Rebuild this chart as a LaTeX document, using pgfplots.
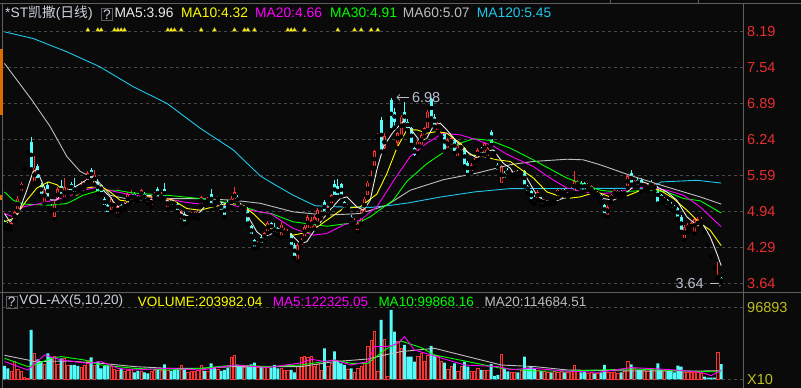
\documentclass[border=0pt]{standalone}
\usepackage{fontspec}
\setmainfont{Liberation Sans}
\newfontfamily\cjk{Noto Sans CJK SC}
\usepackage{pgfplots}
\usepackage{pgfplotstable}
\pgfplotsset{compat=1.18}
\usetikzlibrary{arrows.meta}

\definecolor{bg}{RGB}{10,10,10}
\definecolor{upred}{RGB}{255,50,50}
\definecolor{dncyan}{RGB}{84,252,252}
\definecolor{gridc}{RGB}{72,72,72}
\definecolor{sepc}{RGB}{95,95,95}
\definecolor{ticred}{RGB}{232,45,45}
\definecolor{volyel}{RGB}{190,190,30}
\definecolor{ma5c}{RGB}{235,235,235}
\definecolor{ma10c}{RGB}{255,255,0}
\definecolor{ma20c}{RGB}{255,0,255}
\definecolor{ma30c}{RGB}{0,255,0}
\definecolor{ma60c}{RGB}{190,190,190}
\definecolor{ma120c}{RGB}{30,200,235}
\definecolor{titc}{RGB}{205,210,222}
\definecolor{annc}{RGB}{180,190,205}
\definecolor{orangec}{RGB}{220,110,0}

% up (red) candles: index, open, high, low, close, volume (x10)
\pgfplotstableread{
i o h l c v
2 4.61 4.74 4.60 4.72 11170
3 4.80 4.95 4.78 4.92 23820
4 4.97 5.22 4.95 5.17 13460
5 5.31 5.47 5.28 5.44 11170
9 5.47 5.93 5.45 5.73 35000
12 5.11 5.40 5.08 5.34 20590
15 4.84 5.12 4.80 5.08 31360
16 5.14 5.38 5.10 5.34 20590
18 5.19 5.54 5.16 5.37 28270
19 5.26 5.36 5.22 5.32 18440
23 5.33 5.48 5.30 5.41 15750
24 5.37 5.47 5.35 5.44 18440
25 5.50 5.66 5.47 5.63 25170
27 5.44 5.69 5.42 5.60 19250
32 4.96 5.20 4.93 5.17 17090
33 5.01 5.11 4.98 5.08 13460
34 4.90 5.05 4.87 5.02 12520
36 4.99 5.11 4.97 5.08 10360
37 5.08 5.28 5.06 5.25 12520
38 5.14 5.32 5.12 5.26 13460
41 5.20 5.35 5.18 5.32 11170
44 5.04 5.19 5.02 5.16 11170
45 5.19 5.29 5.17 5.26 12520
47 5.17 5.28 5.15 5.25 12520
49 5.02 5.17 4.99 5.14 12520
53 4.78 4.96 4.76 4.93 19250
55 4.78 4.88 4.75 4.85 9420
56 4.84 4.92 4.82 4.90 11170
57 4.84 4.93 4.82 4.90 11170
58 4.83 4.96 4.80 4.93 12520
59 5.08 5.22 5.05 5.19 18440
61 5.11 5.20 5.08 5.17 11170
64 5.14 5.22 5.12 5.19 13860
68 5.05 5.21 5.02 5.17 29210
69 5.14 5.37 5.12 5.29 31900
72 4.96 5.05 4.94 5.02 15750
76 4.30 4.40 4.28 4.37 15750
78 4.43 4.56 4.41 4.54 15750
79 4.57 4.76 4.55 4.73 17090
83 4.50 4.74 4.47 4.70 14810
84 4.52 4.63 4.49 4.60 12520
85 4.50 4.62 4.48 4.59 12520
88 4.06 4.36 4.04 4.33 17090
89 4.33 4.46 4.30 4.43 29210
90 4.48 4.69 4.45 4.66 30550
91 4.63 4.87 4.60 4.84 29210
92 4.63 4.84 4.60 4.78 31360
93 4.66 4.87 4.63 4.84 17090
94 4.75 5.00 4.72 4.96 20190
95 4.84 4.96 4.81 4.93 12520
97 4.90 5.05 4.88 5.02 17090
98 5.08 5.26 5.05 5.23 21540
103 4.98 5.08 4.95 5.05 13460
105 4.70 4.81 4.67 4.78 9020
106 4.60 4.75 4.57 4.72 14810
107 4.75 4.99 4.72 4.96 17090
108 4.93 5.20 4.90 5.17 21540
109 5.23 5.49 5.20 5.46 44010
110 5.70 5.75 5.53 5.74 52090
111 5.75 6.05 5.72 6.02 65010
112 6.27 6.35 6.23 6.32 11170
114 6.08 6.35 6.02 6.30 53840
118 6.17 6.38 6.08 6.35 50740
119 6.32 6.68 6.29 6.65 41730
124 6.02 6.23 5.99 6.20 30550
125 6.14 6.35 6.11 6.32 35000
126 6.32 6.47 6.29 6.44 23820
127 6.44 6.77 6.41 6.74 32710
130 6.41 6.56 6.38 6.53 30550
131 6.26 6.38 6.23 6.32 23820
133 6.08 6.26 6.05 6.23 13460
134 6.14 6.29 6.11 6.26 17900
136 5.93 6.17 5.90 6.14 10360
137 6.05 6.17 6.00 6.14 17090
140 5.66 5.81 5.63 5.78 10360
141 5.78 5.90 5.75 5.87 10360
142 5.90 6.08 5.87 6.05 14810
144 5.99 6.20 5.96 6.17 12520
145 5.93 6.11 5.90 6.08 12520
149 5.45 5.78 5.42 5.75 34050
152 5.57 5.66 5.54 5.63 9420
153 5.58 5.66 5.55 5.63 9420
155 5.60 5.69 5.58 5.66 12520
160 5.17 5.32 5.15 5.29 12520
162 5.08 5.17 5.05 5.14 10360
163 5.08 5.14 5.06 5.11 9420
165 5.09 5.16 5.07 5.14 10360
166 5.20 5.36 5.18 5.33 9420
167 5.25 5.35 5.23 5.32 11170
169 5.20 5.28 5.18 5.25 9420
170 5.26 5.38 5.24 5.35 11170
171 5.30 5.66 5.28 5.48 19250
172 5.39 5.51 5.36 5.48 11170
175 5.36 5.45 5.33 5.42 8080
176 5.30 5.42 5.28 5.39 9420
178 5.22 5.30 5.19 5.27 8080
181 4.87 5.05 4.84 5.02 9420
182 5.14 5.26 5.11 5.23 9420
183 5.23 5.35 5.20 5.32 9420
184 5.22 5.33 5.20 5.30 8080
186 5.23 5.33 5.21 5.30 11170
187 5.39 5.60 5.36 5.57 23820
189 5.40 5.51 5.38 5.48 14810
192 5.36 5.47 5.33 5.44 12520
193 5.33 5.45 5.31 5.41 11170
195 5.33 5.45 5.30 5.42 12520
198 5.11 5.20 5.08 5.17 12520
204 4.45 4.69 4.42 4.66 9420
205 4.60 4.72 4.57 4.69 9420
206 4.63 4.75 4.60 4.72 9420
207 4.57 4.84 4.54 4.80 9420
208 4.66 4.83 4.63 4.80 9420
209 4.72 4.83 4.70 4.80 8080
214 3.72 4.03 3.71 3.78 36340
}\tabup

% down (cyan) candles
\pgfplotstableread{
i o h l c v
0 4.75 4.78 4.64 4.67 17900
1 4.72 4.74 4.62 4.66 14810
8 6.20 6.28 5.70 5.72 66360
10 5.75 5.80 5.50 5.54 26920
11 5.41 5.45 5.22 5.26 23820
13 5.41 5.47 5.17 5.20 35000
14 5.04 5.08 4.93 4.96 29610
17 5.40 5.51 5.22 5.25 28270
20 5.44 5.47 5.28 5.32 19250
21 5.38 5.55 5.26 5.29 19250
22 5.36 5.38 5.28 5.31 17900
26 5.69 5.73 5.50 5.54 29610
28 5.47 5.53 5.26 5.29 23820
29 5.41 5.44 5.25 5.29 14810
30 5.16 5.20 5.02 5.05 17900
31 5.05 5.08 4.89 4.92 17900
35 5.05 5.08 4.94 4.96 13860
39 5.25 5.29 5.14 5.16 9420
40 5.20 5.23 5.12 5.14 11170
42 5.25 5.28 5.13 5.16 9420
43 5.20 5.22 5.08 5.11 8080
46 5.34 5.38 5.17 5.20 12520
48 5.34 5.45 5.18 5.20 20190
50 5.14 5.17 5.02 5.05 11170
51 5.11 5.13 5.02 5.05 12520
52 5.08 5.10 4.93 4.96 12520
54 4.90 4.93 4.72 4.75 13860
60 5.14 5.17 5.05 5.08 11170
62 5.25 5.34 5.05 5.08 21540
63 5.14 5.17 5.05 5.08 15750
65 5.08 5.11 4.93 4.96 11170
66 5.04 5.06 4.84 4.87 12520
67 5.11 5.14 5.00 5.02 15750
70 5.20 5.24 5.08 5.11 19250
71 5.04 5.06 4.99 5.01 17090
73 4.99 5.02 4.72 4.75 17090
74 4.67 4.70 4.50 4.52 20190
75 4.42 4.44 4.27 4.30 22480
77 4.48 4.50 4.34 4.36 17090
80 4.72 4.75 4.58 4.62 15750
81 4.66 4.72 4.54 4.57 19250
82 4.63 4.66 4.51 4.54 14810
86 4.51 4.54 4.30 4.33 12520
87 4.33 4.36 4.10 4.13 9420
96 5.11 5.14 4.90 4.93 41730
99 5.44 5.50 5.20 5.23 37690
100 5.39 5.53 5.20 5.22 23820
101 5.43 5.45 5.21 5.23 21540
102 5.10 5.13 4.97 5.00 19250
104 4.84 4.87 4.72 4.75 14810
113 6.59 6.65 6.02 6.05 79820
116 6.95 6.98 6.40 6.45 93280
117 6.74 6.80 6.45 6.56 64200
120 6.74 6.92 6.50 6.56 46170
121 6.56 6.60 6.40 6.44 30550
122 6.44 6.47 6.14 6.17 30550
123 6.08 6.11 5.90 5.96 23820
128 6.96 6.98 6.62 6.65 44820
129 6.65 6.70 6.47 6.50 32710
132 6.35 6.38 6.02 6.05 22480
135 6.23 6.26 5.99 6.02 21540
138 6.08 6.11 5.75 5.78 23820
139 5.81 5.84 5.60 5.63 17090
143 6.08 6.11 5.96 6.00 12520
146 6.38 6.41 6.14 6.17 20590
147 6.02 6.05 5.93 5.96 4440
148 5.78 5.81 5.66 5.69 5790
150 5.64 5.66 5.51 5.54 14810
151 5.69 5.72 5.57 5.60 10770
154 5.66 5.69 5.57 5.60 9420
156 5.66 5.69 5.39 5.42 30550
157 5.40 5.42 5.27 5.30 15750
158 5.30 5.33 5.12 5.16 17090
159 5.20 5.23 5.08 5.12 14810
161 5.17 5.20 5.05 5.08 11170
164 5.14 5.15 5.06 5.09 9420
168 5.32 5.35 5.22 5.25 9420
173 5.45 5.48 5.30 5.33 9420
174 5.45 5.47 5.30 5.33 10360
177 5.33 5.36 5.22 5.25 8080
179 5.24 5.27 5.12 5.14 9420
180 5.05 5.08 4.87 4.90 19250
185 5.30 5.33 5.20 5.23 9420
188 5.63 5.69 5.42 5.45 20190
190 5.51 5.54 5.38 5.41 12520
191 5.51 5.54 5.30 5.33 12520
194 5.45 5.50 5.36 5.39 12520
196 5.36 5.39 5.08 5.11 21540
197 5.23 5.26 5.12 5.14 12520
199 5.14 5.16 5.02 5.05 11170
200 5.08 5.10 4.97 5.00 11170
201 5.02 5.05 4.93 4.96 9420
202 5.00 5.02 4.81 4.84 18440
203 4.84 4.87 4.57 4.60 17090
215 3.73 3.75 3.64 3.66 20398
}\tabdn

% one-price (limit) days
\pgfplotstableread{
i p v
6 5.71 2690
7 6.00 1750
115 6.62 4440
}\tabflu
\pgfplotstableread{
i p v
210 4.56 3630
211 4.33 2290
212 4.12 2290
213 3.91 2290
}\tabfld

\begin{document}
\begin{tikzpicture}
\useasboundingbox (0,0) rectangle (801pt,388pt);
\fill[bg] (0,0) rectangle (801pt,388pt);

% ---------------- price panel ----------------
\begin{axis}[
  at={(2pt,97pt)}, anchor=south west, scale only axis,
  width=741pt, height=288pt,
  xmin=-0.75, xmax=221.55, ymin=3.501, ymax=8.701,
  axis line style={draw=none}, xtick=\empty,
  ytick={3.64,4.29,4.94,5.59,6.24,6.89,7.54,8.19},
  yticklabels={3.64,4.29,4.94,5.59,6.24,6.89,7.54,8.19},
  yticklabel pos=right, tick style={draw=none}, major tick length=0pt,
  yticklabel style={anchor=west, inner sep=0pt, xshift=4pt, text=ticred, font=\fontsize{14.5}{16}\selectfont},
  ymajorgrids, major grid style={draw=gridc, line width=0.7pt, dash pattern=on 3pt off 3pt},
]
% wicks
\addplot[only marks, mark=none, error bars/.cd, y dir=plus, y explicit, error mark=none,
  error bar style={draw=dncyan, line width=0.9pt}]
  table[x=i, y=l, y error plus expr={\thisrow{h}-\thisrow{l}}] \tabdn;
\addplot[only marks, mark=none, error bars/.cd, y dir=plus, y explicit, error mark=none,
  error bar style={draw=upred, line width=0.9pt}]
  table[x=i, y=l, y error plus expr={\thisrow{h}-\thisrow{l}}] \tabup;
% bodies
\addplot[only marks, mark=none, error bars/.cd, y dir=both, y explicit, error mark=none,
  error bar style={draw=dncyan, line width=2.7pt}]
  table[x=i, y expr={(\thisrow{o}+\thisrow{c})/2}, y error expr={max(abs(\thisrow{o}-\thisrow{c})/2,0.009)}] \tabdn;
\addplot[only marks, mark=none, error bars/.cd, y dir=both, y explicit, error mark=none,
  error bar style={draw=upred, line width=2.7pt}]
  table[x=i, y expr={(\thisrow{o}+\thisrow{c})/2}, y error expr={max(abs(\thisrow{o}-\thisrow{c})/2,0.009)}] \tabup;
\addplot[only marks, mark=none, error bars/.cd, y dir=both, y explicit, error mark=none,
  error bar style={draw=bg, line width=1.2pt}]
  table[x=i, y expr={(\thisrow{o}+\thisrow{c})/2}, y error expr={max(abs(\thisrow{o}-\thisrow{c})/2-0.0135,0)}] \tabup;
% one-price days
\addplot[only marks, mark=none, error bars/.cd, x dir=both, x fixed=0.45, error mark=none,
  error bar style={draw=white, line width=1pt}] table[x=i, y=p] \tabflu;
\addplot[only marks, mark=none, error bars/.cd, x dir=both, x fixed=0.45, error mark=none,
  error bar style={draw=white, line width=1pt}] table[x=i, y=p] \tabfld;

% MA120
\addplot[ma120c, line width=0.9pt] coordinates {(0,8.18) (8.6,8.06) (18.7,7.82) (28.6,7.55) (38.6,7.19) (48.7,6.89) (58.7,6.44) (68.6,6.05) (76.7,5.58) (79.7,5.47) (86.6,5.23) (93.2,5.04) (100,5.02) (110,5.01) (116,5.05) (121,5.09) (131,5.20) (141,5.29) (151.7,5.35) (192.7,5.355) (195,5.40) (197,5.47) (207.7,5.50) (215,5.45)};
% MA60
\addplot[ma60c, line width=0.9pt] coordinates {(0,7.61) (8.2,6.95) (13.7,6.47) (18.7,5.93) (22.7,5.66) (27.7,5.51) (31.7,5.23) (38.6,5.14) (48.7,5.17) (58.7,5.17) (68.6,5.14) (76.7,5.085) (86.6,4.93) (96.7,4.87) (106.7,4.90) (114.7,5.05) (121.7,5.32) (131.6,5.51) (141.7,5.63) (151.7,5.78) (158.6,5.84) (168.7,5.88) (173.6,5.87) (178.7,5.78) (188.6,5.57) (198.7,5.38) (208.7,5.20) (215,5.07)};
% MA30
\addplot[ma30c, line width=0.9pt] coordinates {(0,5.29) (2.6,5.14) (5.6,5.07) (13.6,5.05) (18.7,5.08) (23.6,5.23) (28.7,5.32) (33.7,5.32) (38.6,5.27) (48.7,5.23) (58.7,5.17) (68.6,5.08) (77,4.92) (80,4.90) (86.6,4.75) (96.7,4.67) (106.7,4.75) (109.7,4.84) (116.6,5.14) (120.7,5.48) (126.7,5.80) (131.6,6.00) (136.7,6.17) (140.7,6.25) (145.7,6.22) (151.7,6.08) (158.6,5.87) (168.7,5.54) (178.7,5.32) (183.7,5.29) (193.7,5.32) (198.7,5.29) (203.7,5.17) (208.7,5.13) (215,4.91)};
% MA20
\addplot[ma20c, line width=0.9pt] coordinates {(0,4.90) (2.6,4.84) (5.6,5.02) (10.6,5.08) (14.6,5.14) (18.7,5.20) (23.6,5.32) (27.7,5.37) (33.7,5.29) (38.6,5.23) (43.7,5.20) (48.7,5.17) (53.6,5.11) (58.7,5.07) (63.7,5.05) (68.6,5.05) (73.7,4.96) (79.7,4.90) (86.6,4.63) (92.6,4.51) (96.7,4.54) (101.6,4.69) (106.7,4.78) (111.7,5.02) (116.6,5.48) (121.7,5.93) (126.7,6.17) (131.6,6.35) (136.7,6.32) (141.7,6.23) (146.6,6.12) (150.7,5.97) (158.6,5.75) (163.7,5.54) (168.7,5.36) (173.6,5.29) (178.7,5.26) (183.7,5.28) (188.7,5.36) (193.7,5.38) (198.7,5.32) (203.7,5.23) (208.7,5.02) (215,4.66)};
% MA10
\addplot[ma10c, line width=0.9pt] coordinates {(0,4.75) (2.6,4.81) (6.7,5.14) (9.7,5.36) (13.1,5.47) (15.7,5.42) (18.7,5.27) (21.7,5.23) (24.7,5.36) (28.7,5.40) (31.7,5.29) (34.7,5.14) (38.6,5.11) (42.7,5.20) (46.7,5.20) (50.6,5.14) (54.7,4.99) (58.7,4.96) (62.6,5.02) (66.7,5.07) (70.7,5.08) (74.6,4.90) (78.7,4.66) (82.7,4.57) (86.6,4.51) (91.7,4.57) (96.7,4.78) (101.6,4.99) (106.7,5.02) (111.7,5.25) (114.7,5.62) (117.7,6.08) (120.7,6.41) (123.7,6.41) (126.7,6.35) (129.7,6.38) (132.7,6.35) (136.7,6.17) (139.7,5.96) (143.6,5.93) (147.7,5.87) (151.7,5.84) (153.7,5.75) (158.7,5.54) (162.7,5.29) (168.7,5.17) (172.7,5.20) (177.7,5.29) (181.7,5.20) (185.6,5.19) (189.7,5.29) (192.7,5.38) (196.7,5.32) (200.7,5.17) (204.7,4.96) (208.7,4.72) (211.7,4.60) (215,4.32)};
% MA5
\addplot[ma5c, line width=0.9pt] coordinates {(0,4.90) (1.6,4.75) (4.1,4.90) (6.7,5.32) (8.6,5.66) (9.7,5.69) (11.6,5.42) (13.6,5.15) (15.6,5.14) (17.6,5.29) (20.6,5.36) (24.7,5.51) (27.7,5.47) (29.6,5.32) (31.7,5.20) (33.7,5.02) (35.6,5.05) (38.6,5.17) (42.7,5.23) (46.7,5.20) (50.6,5.08) (53.2,4.90) (55.7,4.84) (58.7,4.93) (61.6,5.14) (64.7,5.11) (67.7,5.05) (69.7,5.14) (71.7,5.02) (73.7,4.78) (75.7,4.57) (77.6,4.48) (79.7,4.52) (82.7,4.63) (85.7,4.54) (88.7,4.36) (90.7,4.39) (93.7,4.66) (97.6,4.96) (100.7,5.17) (102.7,5.20) (105.7,5.02) (107.7,4.96) (109.7,5.14) (111.7,5.69) (113.7,6.11) (116.7,6.38) (119.6,6.56) (121.7,6.44) (124.7,6.20) (126.7,6.26) (128.6,6.47) (130.7,6.53) (132.7,6.41) (135.7,6.20) (138.7,6.02) (141.7,5.90) (144.7,6.02) (146.6,6.05) (149.6,5.81) (151.7,5.72) (152.7,5.63) (156.7,5.54) (159.7,5.23) (161.7,5.14) (164.7,5.11) (168.7,5.20) (172.7,5.38) (176.6,5.32) (179.7,5.17) (182.6,5.14) (185.6,5.23) (188.6,5.38) (191.6,5.47) (195.7,5.38) (198.7,5.29) (201.7,5.14) (204.7,4.84) (207.7,4.69) (209.7,4.69) (211.7,4.48) (213.7,4.18) (215,3.96)};

% event markers
\addplot[only marks, mark=triangle*, mark size=2.4pt, mark options={fill=yellow, draw=yellow!60!black, line width=0.3pt}]
  coordinates {(25,8.214) (28,8.214) (29,8.214) (33,8.214) (34,8.214) (35,8.214) (36,8.214) (49,8.214) (50,8.214) (51,8.214) (53,8.214) (59,8.214) (63,8.214) (69,8.214) (72,8.214) (73,8.214) (75,8.214) (85,8.214) (86,8.214) (87,8.214) (90,8.214) (100,8.214) (105,8.214) (107,8.214) (110,8.214) (112,8.214)};

% high / low annotations
\draw[annc, line width=0.7pt, -{Straight Barb[length=3pt,width=6pt]}] (axis cs:121.2,6.995) -- (axis cs:117.6,6.995);
\node[anchor=west, inner sep=0pt, text=annc, font=\fontsize{14.5}{16}\selectfont] at (axis cs:122.2,6.995) {6.98};
\node[anchor=east, inner sep=0pt, text=annc, font=\fontsize{14.5}{16}\selectfont] at (axis cs:209.85,3.64) {3.64};
\draw[annc, line width=0.7pt, -{Straight Barb[length=3pt,width=6pt]}] (axis cs:211.7,3.64) -- (axis cs:215.5,3.64);
\end{axis}

% ---------------- volume panel ----------------
\begin{axis}[
  at={(2pt,0pt)}, anchor=south west, scale only axis,
  width=741pt, height=96pt,
  xmin=-0.75, xmax=221.55, ymin=-11710, ymax=117506,
  axis line style={draw=none}, xtick=\empty, scaled y ticks=false,
  ytick={0,96893}, yticklabels={X10,96893},
  yticklabel pos=right, tick style={draw=none}, major tick length=0pt,
  yticklabel style={anchor=west, inner sep=0pt, xshift=4pt, text=volyel, font=\fontsize{14.5}{16}\selectfont},
  ymajorgrids, major grid style={draw=gridc, line width=0.7pt, dash pattern=on 3pt off 3pt},
]
\addplot[ybar, bar width=2.9pt, bar shift=0pt, fill=dncyan, draw=none] table[x=i, y=v] \tabdn;
\addplot[ybar, bar width=2.9pt, bar shift=0pt, fill=dncyan, draw=none] table[x=i, y=v] \tabfld;
\addplot[ybar, bar width=2.1pt, bar shift=0pt, fill=bg, draw=upred, line width=0.75pt] table[x=i, y=v] \tabup;
\addplot[ybar, bar width=2.1pt, bar shift=0pt, fill=bg, draw=upred, line width=0.75pt] table[x=i, y=v] \tabflu;
% VOL MA20
\addplot[ma60c, line width=0.9pt] coordinates {(0,32300) (7,26000) (9,23800) (19,24600) (29,21500) (39,17100) (49,14800) (59,14800) (69,17100) (79,17100) (89,17100) (99,23800) (109,27300) (114,32700) (119,37300) (129,41700) (139,30500) (149,19250) (159,17100) (169,12500) (189,11200) (209,11200) (215,11468)};
% VOL MA10
\addplot[ma30c, line width=0.9pt] coordinates {(0,28300) (7,17100) (9,19250) (14,28300) (17,30550) (24,26000) (29,19250) (39,14800) (49,12500) (59,14800) (69,19250) (79,17100) (89,19250) (99,26000) (104,21500) (109,21500) (114,39400) (119,51500) (125,42700) (129,32700) (139,23800) (149,14800) (159,11200) (169,11200) (189,13900) (209,10400) (215,9987)};
% VOL MA5
\addplot[ma20c, line width=0.9pt] coordinates {(0,23800) (7,12500) (12,32700) (17,26000) (25,21500) (29,23800) (34,14800) (39,12500) (49,14800) (59,12500) (69,19250) (74,17500) (79,16000) (89,22000) (92,27000) (96,24000) (99,26000) (104,19250) (109,23800) (111,44000) (114,44000) (116,45000) (118,48500) (120,57400) (123,39400) (128,32700) (138,19250) (148,17100) (152,13000) (158,15000) (168,11200) (178,9400) (188,15750) (196,14000) (203,12000) (209,9400) (212,5000) (215,12233)};
\end{axis}

% ---------------- frame lines ----------------
\draw[sepc, line width=0.8pt] (0,385pt) -- (801pt,385pt);
\draw[sepc, line width=0.8pt] (0,96pt) -- (801pt,96pt);
\draw[sepc, line width=0.8pt] (743pt,0) -- (743pt,385pt);
\draw[sepc, line width=0.8pt] (2pt,0) -- (2pt,385pt);
\draw[sepc, line width=0.8pt] (610pt,385pt) -- (610pt,388pt);
\draw[sepc, line width=0.8pt] (698pt,385pt) -- (698pt,388pt);
\fill[orangec] (0,273pt) rectangle (2.5pt,339pt);
\fill[orangec] (0,188pt) rectangle (2pt,193pt);

% ---------------- header texts ----------------
\begin{scope}[every node/.style={anchor=west, inner sep=0pt, font=\fontsize{13.8}{16}\selectfont}]
\node[text=titc] at (5pt,375pt) {*ST{\cjk 凯撒}({\cjk 日线})};
\draw[sepc, line width=0.7pt] (101pt,367.3pt) rectangle (112.7pt,379.7pt);
\node[anchor=center, text=titc] at (106.9pt,373.5pt) {?};
\node[text=ma5c] at (114.3pt,375pt) {MA5:3.96};
\node[text=ma10c] at (181pt,375pt) {MA10:4.32};
\node[text=ma20c] at (255pt,375pt) {MA20:4.66};
\node[text=ma30c] at (330pt,375pt) {MA30:4.91};
\node[text=ma60c] at (402.7pt,375pt) {MA60:5.07};
\node[text=ma120c] at (476.7pt,375pt) {MA120:5.45};
\end{scope}
\begin{scope}[every node/.style={anchor=west, inner sep=0pt, font=\fontsize{13.5}{16}\selectfont}]
\draw[sepc, line width=0.7pt] (6pt,79.7pt) rectangle (17.3pt,92pt);
\node[anchor=center, text=titc] at (11.7pt,85.9pt) {?};
\node[text=titc] at (19.3pt,86.5pt) {VOL-AX(5,10,20)};
\node[text=ma10c] at (137.7pt,86.5pt) {VOLUME:203982.04};
\node[text=ma20c] at (272.7pt,86.5pt) {MA5:122325.05};
\node[text=ma30c] at (378.3pt,86.5pt) {MA10:99868.16};
\node[text=ma60c] at (484.3pt,86.5pt) {MA20:114684.51};
\end{scope}
\end{tikzpicture}
\end{document}
